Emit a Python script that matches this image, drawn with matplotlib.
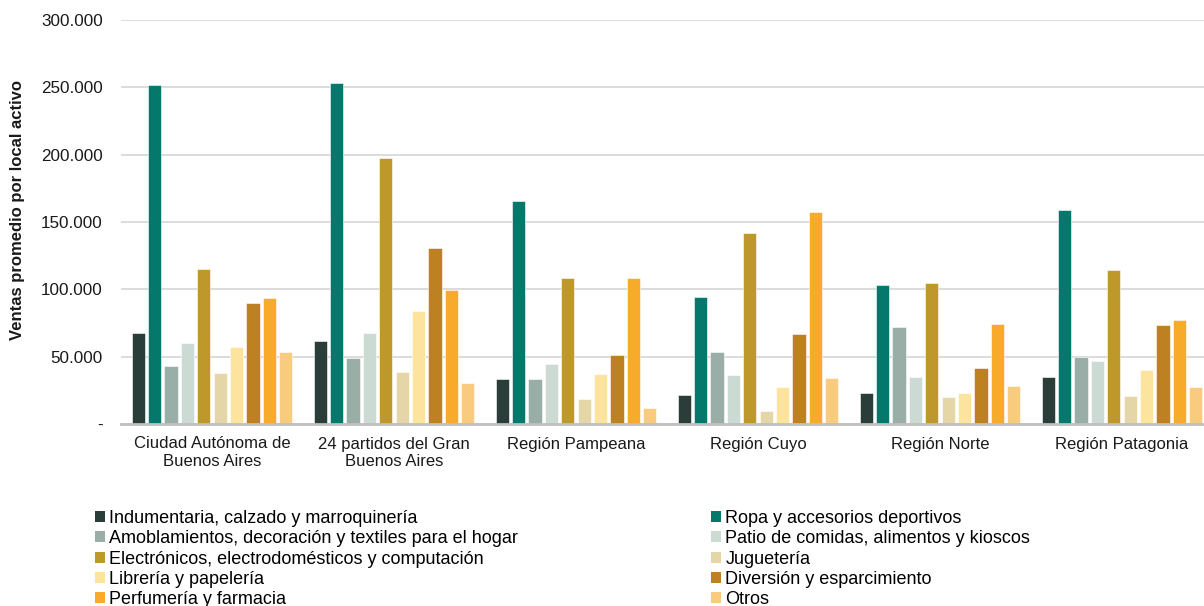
import matplotlib
matplotlib.use("Agg")
import matplotlib.pyplot as plt
import numpy as np
from matplotlib.ticker import FuncFormatter
from matplotlib.patches import Patch

plt.rcParams['font.family'] = ['Liberation Sans', 'DejaVu Sans']

regiones = ['Ciudad Autónoma de\nBuenos Aires', '24 partidos del Gran\nBuenos Aires',
            'Región Pampeana', 'Región Cuyo', 'Región Norte', 'Región Patagonia']

rubros = ['Indumentaria, calzado y marroquinería',
          'Ropa y accesorios deportivos',
          'Amoblamientos, decoración y textiles para el hogar',
          'Patio de comidas, alimentos y kioscos',
          'Electrónicos, electrodomésticos y computación',
          'Juguetería',
          'Librería y papelería',
          'Diversión y esparcimiento',
          'Perfumería y farmacia',
          'Otros']

colores = ['#2B3D38', '#03786B', '#98AEA7', '#CBDBD4', '#BF982B',
           '#E5D6A8', '#FDE49E', '#BE8121', '#F8AA2B', '#F9CB7E']

# ventas promedio por local activo, una lista por rubro (orden de regiones)
indumentaria = [67400, 61400, 33200, 21300, 23300, 34900]
ropa_deportiva = [252000, 253000, 165400, 94500, 103200, 158700]
amoblamientos = [43000, 48800, 33200, 53200, 71800, 50000]
patio_comidas = [60000, 67800, 44600, 36400, 34900, 46500]
electronicos = [115300, 197500, 108700, 141600, 104500, 114400]
jugueteria = [37600, 38400, 18600, 9700, 19800, 20500]
libreria = [57000, 83700, 36900, 27200, 23000, 39900]
diversion = [89600, 130500, 51000, 66600, 41600, 73300]
perfumeria = [93300, 99500, 108700, 157700, 74000, 77000]
otros = [53500, 30200, 12100, 33900, 28200, 27200]

series = [indumentaria, ropa_deportiva, amoblamientos, patio_comidas, electronicos,
          jugueteria, libreria, diversion, perfumeria, otros]

fig = plt.figure(figsize=(12.04, 6.06), dpi=100)
ax = fig.add_axes([121 / 1204, 182 / 606, 1092 / 1204, 404 / 606])

x = np.arange(len(regiones))
slot = 0.09
width = 0.073
for i, (vals, col) in enumerate(zip(series, colores)):
    offset = (i - 4.5) * slot
    ax.bar(x + offset, vals, width, color=col, edgecolor='white', linewidth=0.4, zorder=3)

ax.set_xlim(-0.5, len(regiones) - 0.5)
ax.set_ylim(0, 300000)
ax.set_yticks(np.arange(0, 300001, 50000))


def miles(v, pos):
    if v == 0:
        return '-'
    return f'{int(v):,}'.replace(',', '.')


ax.yaxis.set_major_formatter(FuncFormatter(miles))
ax.grid(axis='y', color='#D9D9D9', linewidth=1.3, zorder=0)
ax.set_axisbelow(True)

for s in ['top', 'right', 'left']:
    ax.spines[s].set_visible(False)
ax.spines['bottom'].set_color('#BFBFBF')
ax.spines['bottom'].set_linewidth(2)
ax.spines['bottom'].set_zorder(4)

ax.set_xticks(x)
ax.set_xticklabels(regiones, fontsize=12, color='#1A1A1A', linespacing=1.25)
ax.tick_params(axis='x', length=0, pad=9)
ax.tick_params(axis='y', length=0, pad=13, labelsize=12.3, labelcolor='#1A1A1A')

ax.set_ylabel('Ventas promedio por local activo', fontsize=12, fontweight='bold', color='#1A1A1A')
ax.yaxis.set_label_coords(-0.088, 0.53)

handles = [Patch(facecolor=c, edgecolor='none') for c in colores]
leg_kw = dict(loc='upper left', frameon=False, fontsize=13, handlelength=0.55,
              handleheight=0.55, handletextpad=0.25, labelspacing=0.18,
              borderpad=0, borderaxespad=0)
fig.legend(handles[0::2], rubros[0::2], bbox_to_anchor=(95 / 1204, 1 - 510 / 606), **leg_kw)
fig.legend(handles[1::2], rubros[1::2], bbox_to_anchor=(711 / 1204, 1 - 510 / 606), **leg_kw)

fig.savefig('out.png', dpi=100)
